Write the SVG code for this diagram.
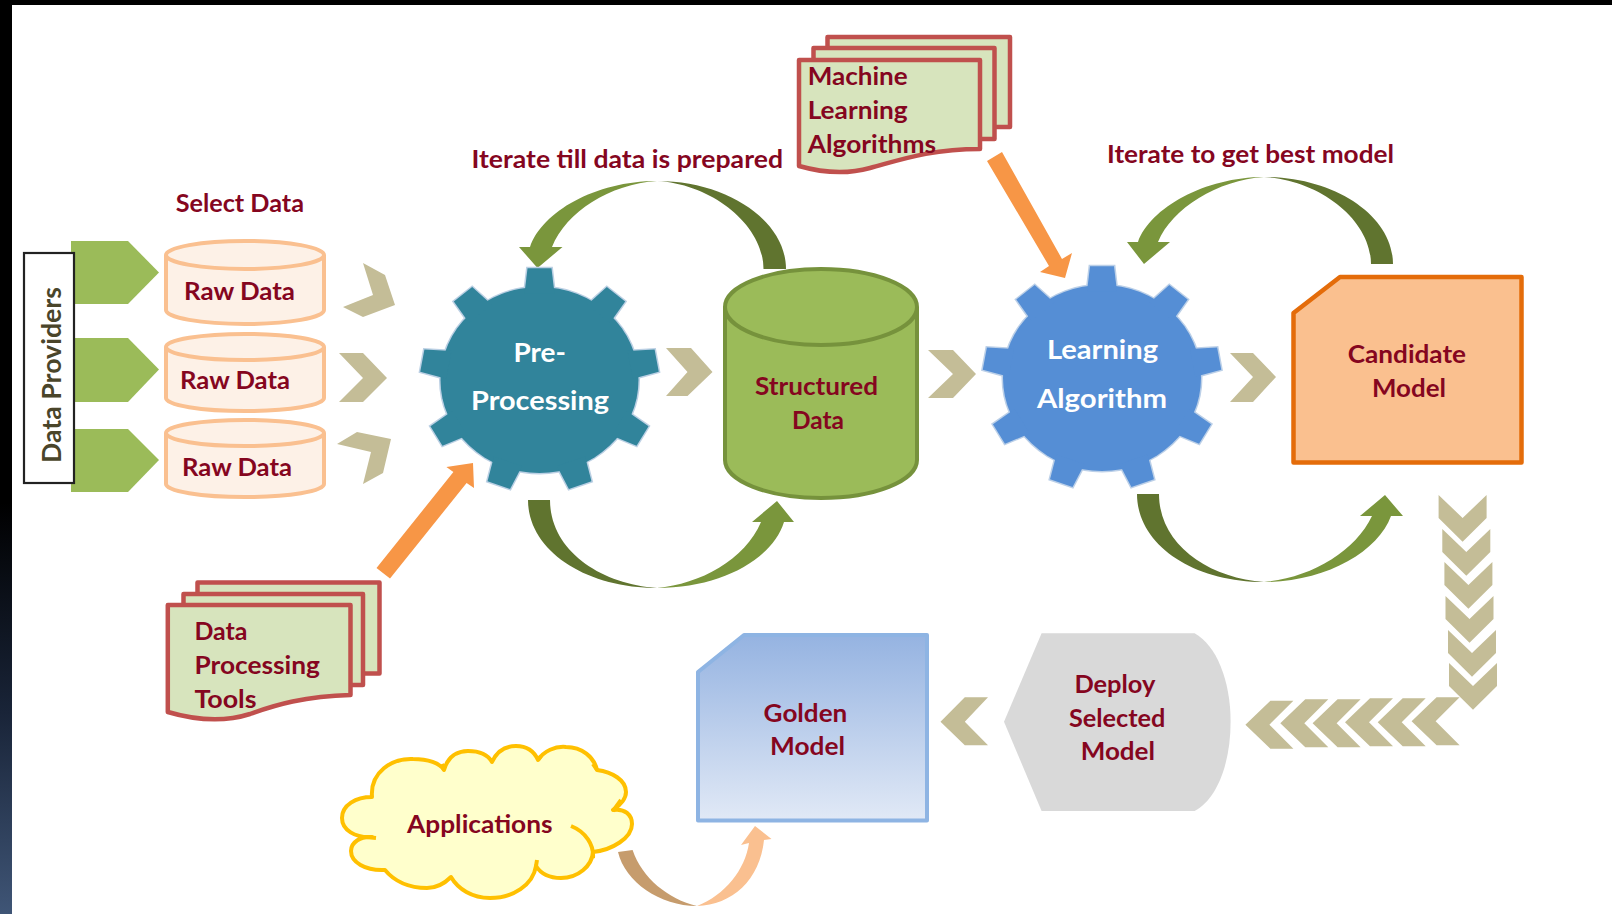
<svg xmlns="http://www.w3.org/2000/svg" width="1612" height="914" viewBox="0 0 1612 914">
<style>
text{font-family:"Lato","Carlito","Liberation Sans",sans-serif;font-weight:700;fill:#85061f;font-size:24.5px}
text:not(.r){transform:translateY(1px)}
.w{fill:#fff;font-size:27px}
.chev{fill:#c4bd97}
.dark{fill:#60742f}
.light{fill:#7a963c}
.orange{fill:#f79646}
.doc{fill:#d7e4bd;stroke:#c0504d;stroke-width:4.5;stroke-linejoin:round}
.can{fill:#fdf1e7;stroke:#fac090;stroke-width:4}
.pent{fill:#9bbb59}
</style>
<defs>
<linearGradient id="bar" x1="0" y1="0" x2="0" y2="1"><stop offset="0" stop-color="#000"/><stop offset=".55" stop-color="#000"/><stop offset=".78" stop-color="#192438"/><stop offset="1" stop-color="#3f5576"/></linearGradient>
<linearGradient id="gold" x1="0" y1="0" x2="0" y2="1"><stop offset="0" stop-color="#95b3e1"/><stop offset="1" stop-color="#e1e9f6"/></linearGradient>
<g id="gear">
<circle r="99"/>
<polygon id="t" points="-15,-92 15,-92 12,-119 -12,-119"/>
<use href="#t" transform="rotate(40)"/><use href="#t" transform="rotate(80)"/><use href="#t" transform="rotate(120)"/><use href="#t" transform="rotate(160)"/><use href="#t" transform="rotate(200)"/><use href="#t" transform="rotate(240)"/><use href="#t" transform="rotate(280)"/><use href="#t" transform="rotate(320)"/>
</g>
<polygon id="down" class="chev" points="0,0 24,23 48,0 48,23 24,46.7 0,23"/>
<polygon id="left" class="chev" points="0,0 25,-24 48,-24 24,0 48,24 25,24"/>
</defs>
<rect width="1612" height="914" fill="#fff"/>
<rect width="12" height="914" fill="url(#bar)"/>
<rect width="1612" height="5" fill="#000"/>

<g id="connectors">
<path class="dark" d="M786 269C786 221 728 181 657 181C712 184 763.5 225 763.5 269Z"/>
<path class="light" d="M657 181C595 181 542 212 530 247H519L537.5 268L562.5 247H552C566 212 610 184 657 181Z"/>
<path class="dark" d="M528 500C528 550 585 588 657 588C600 584 550 550 550 500Z"/>
<path class="light" d="M657 588C720 588 772 560 784 522H794L777 501L752 522H761C745 560 700 584 657 588Z"/>
<path class="dark" d="M1393 264C1393 216 1335 177 1264 177C1320 180 1371 220 1371 264Z"/>
<path class="light" d="M1264 177C1205 177 1150 208 1138 242H1127L1144 264L1170 242H1158C1172 208 1218 180 1264 177Z"/>
<path class="dark" d="M1137 494C1137 544 1192 582 1264 582C1208 578 1159 544 1159 494Z"/>
<path class="light" d="M1264 582C1325 582 1378 552 1391 516H1403L1385 495L1360 516H1372C1355 552 1310 578 1264 582Z"/>
<path d="M618 852C625 882 660 906 697 906C668 899 642 878 632.6 850Z" fill="#c69c6d"/>
<path d="M697 906C732 905 760 880 764 840L771.5 839L755 826L741 845L749 843C745 870 725 895 697 906Z" fill="#fac090"/>
<polygon class="orange" points="987,161 1002,152 1062,259 1072,253 1065,278 1040,272 1049,266"/>
<polygon class="orange" points="376.5,568 390,578.5 466.6,483 474,488 473,463 446.4,467 453.4,472"/>
<polygon class="chev" points="363,263 385,275 395,305 363,317 343,307 373,295"/>
<polygon class="chev" points="339,353 363,353 387,378 363,402 339,402 363,378"/>
<polygon class="chev" points="337,444 357,432 391,439 383,473 363,484 371,452"/>
<polygon class="chev" points="666,348 691,348 712.5,372 687.5,396 666,396 687.5,372"/>
<polygon class="chev" points="928,350 953,350 976,374 953,398 928,398 953,374"/>
<polygon class="chev" points="1230,353 1253,353 1276,377 1253,402 1230,402 1253,377"/>
<use href="#down" x="1438.6" y="495"/>
<use href="#down" x="1442.3" y="529"/>
<use href="#down" x="1444.4" y="562"/>
<use href="#down" x="1445.5" y="596"/>
<use href="#down" x="1448" y="630"/>
<use href="#down" x="1449" y="663"/>
<use href="#left" x="1411.6" y="721.3"/>
<use href="#left" x="1377.7" y="722.3"/>
<use href="#left" x="1345" y="722.3"/>
<use href="#left" x="1312.6" y="723.3"/>
<use href="#left" x="1280.3" y="723.3"/>
<use href="#left" x="1245.4" y="724.7"/>
<polygon class="chev" points="940.5,721.7 964.8,697.3 988,697.3 964.8,721.7 988,745.3 964.8,745.3"/>
</g>

<g id="provider-1"><polygon class="pent" points="71,241 128,241 159,272.5 128,304 71,304"/></g>
<g id="provider-2"><polygon class="pent" points="71,338 128,338 159,369.5 128,402 71,402"/></g>
<g id="provider-3"><polygon class="pent" points="71,429 128,429 159,460 128,492 71,492"/></g>
<g id="data-providers">
<rect x="24" y="253" width="50" height="230" fill="#fff" stroke="#222" stroke-width="2.2"/>
<text class="r" transform="translate(61 463) rotate(-90)" textLength="176" lengthAdjust="spacingAndGlyphs" style="fill:#4a452a;font-size:26px">Data Providers</text>
</g>
<g id="select-data"><text x="175.7" y="210.7" textLength="128.3" lengthAdjust="spacingAndGlyphs">Select Data</text></g>

<g id="raw-1">
<path class="can" d="M166 255V310A79 14 0 0 0 324 310V255"/><ellipse class="can" cx="245" cy="255" rx="79" ry="14"/>
<text x="184" y="299" textLength="111" lengthAdjust="spacingAndGlyphs">Raw Data</text>
</g>
<g id="raw-2">
<path class="can" d="M166 347V398A79 13 0 0 0 324 398V347"/><ellipse class="can" cx="245" cy="347" rx="79" ry="13"/>
<text x="180" y="388" textLength="110" lengthAdjust="spacingAndGlyphs">Raw Data</text>
</g>
<g id="raw-3">
<path class="can" d="M166 433V484A79 13 0 0 0 324 484V433"/><ellipse class="can" cx="245" cy="433" rx="79" ry="13"/>
<text x="182" y="475" textLength="110" lengthAdjust="spacingAndGlyphs">Raw Data</text>
</g>

<g id="pre-processing">
<g transform="translate(539.5 380) scale(1 .94)">
<use href="#gear" fill="#bcd0e4" stroke="#bcd0e4" stroke-width="3"/>
<use href="#gear" fill="#31849b"/>
</g>
<text class="w" x="513.5" y="361" textLength="52.5" lengthAdjust="spacingAndGlyphs">Pre-</text>
<text class="w" x="471" y="409" textLength="138" lengthAdjust="spacingAndGlyphs">Processing</text>
</g>
<g id="iterate-data"><text x="471.5" y="167" textLength="311.5" lengthAdjust="spacingAndGlyphs">Iterate till data is prepared</text></g>

<g id="structured-data">
<path d="M725 307V460A96 38 0 0 0 917 460V307" fill="#9bbb59" stroke="#76923c" stroke-width="4"/>
<ellipse cx="821" cy="307" rx="96" ry="38" fill="#9bbb59" stroke="#76923c" stroke-width="4"/>
<text x="755" y="394" textLength="123" lengthAdjust="spacingAndGlyphs">Structured</text>
<text x="792" y="428" textLength="52" lengthAdjust="spacingAndGlyphs">Data</text>
</g>

<g id="ml-algorithms">
<rect class="doc" x="827.5" y="37" width="182.5" height="90"/>
<rect class="doc" x="813.5" y="48" width="181" height="91"/>
<path class="doc" d="M799 60H980V149C930 149 900 160 870 168C845 175 820 172 799 166Z"/>
<text x="807.7" y="84" textLength="100" lengthAdjust="spacingAndGlyphs">Machine</text>
<text x="807.7" y="118.3" textLength="100" lengthAdjust="spacingAndGlyphs">Learning</text>
<text x="807.7" y="152" textLength="128.3" lengthAdjust="spacingAndGlyphs">Algorithms</text>
</g>

<g id="learning-algorithm">
<g transform="translate(1102 378) scale(1 .94)">
<use href="#gear" fill="#bcd0e8" stroke="#bcd0e8" stroke-width="3"/>
<use href="#gear" fill="#558ed5"/>
</g>
<text class="w" x="1047" y="358" textLength="111" lengthAdjust="spacingAndGlyphs">Learning</text>
<text class="w" x="1037" y="407" textLength="130" lengthAdjust="spacingAndGlyphs">Algorithm</text>
</g>
<g id="iterate-model"><text x="1107" y="161.7" textLength="287" lengthAdjust="spacingAndGlyphs">Iterate to get best model</text></g>

<g id="candidate-model">
<path d="M1340 277H1521.5V462.5H1293.5V313Z" fill="#fac08f" stroke="#e46c0a" stroke-width="4.5" stroke-linejoin="round"/>
<text x="1347.8" y="362" textLength="118.2" lengthAdjust="spacingAndGlyphs">Candidate</text>
<text x="1372" y="396" textLength="74" lengthAdjust="spacingAndGlyphs">Model</text>
</g>

<g id="tools">
<rect class="doc" x="197.5" y="582.5" width="182" height="91"/>
<rect class="doc" x="183.5" y="594" width="179.5" height="91"/>
<path class="doc" d="M167.8 605H350.5V695C305 696 275 705 250 714C225 722 195 720 167.8 712Z"/>
<text x="194.4" y="639" textLength="53" lengthAdjust="spacingAndGlyphs">Data</text>
<text x="194.4" y="673" textLength="125.6" lengthAdjust="spacingAndGlyphs">Processing</text>
<text x="194.4" y="707" textLength="62.2" lengthAdjust="spacingAndGlyphs">Tools</text>
</g>

<g id="golden-model">
<path d="M744 635H927V820.5H698V672Z" fill="url(#gold)" stroke="#8eb4e3" stroke-width="4" stroke-linejoin="round"/>
<text x="763.6" y="720.7" textLength="83.7" lengthAdjust="spacingAndGlyphs">Golden</text>
<text x="770" y="754" textLength="75" lengthAdjust="spacingAndGlyphs">Model</text>
</g>

<g id="deploy-model">
<path d="M1004 721.7L1041.6 633.3H1194.6C1216 645 1230.6 680 1230.6 721.7C1230.6 765 1216 800 1194.6 811H1041.6Z" fill="#d9d9d9"/>
<text x="1074.4" y="692" textLength="81" lengthAdjust="spacingAndGlyphs">Deploy</text>
<text x="1069" y="726" textLength="96.4" lengthAdjust="spacingAndGlyphs">Selected</text>
<text x="1080.7" y="759" textLength="74.3" lengthAdjust="spacingAndGlyphs">Model</text>
</g>

<g id="applications">
<path d="M372 797C370 772 392 758 413 759C428 759 440 763 444 770C448 756 458 751 468 751C480 751 488 755 492 762C497 751 506 746 516 746C526 746 534 751 538 760C544 751 555 746 566 747C582 747 594 757 597 770C612 772 626 780 626 792C626 798 621 805 613 810C625 808 632 815 632 824C632 838 612 850 593 852C592 866 578 878 561 878C550 878 541 874 536 866C533 885 513 898 490 898C472 898 458 889 451 877C443 885 436 888 427 888C409 888 394 881 385 870C365 871 351 862 351 851C351 842 361 836 372 837C355 838 342 830 342 818C342 805 356 797 372 797Z" fill="#ffffcc" stroke="#ffc000" stroke-width="4" stroke-linejoin="round"/>
<path d="M571 826C586 832 594 845 593 858M621 800L613 811M376 838L366 837M444 770L442 764M538 760L541 756M597 770L593 764M536 866L537 860" fill="none" stroke="#ffc000" stroke-width="4"/>
<text x="407" y="831.7" textLength="145.6" lengthAdjust="spacingAndGlyphs">Applications</text>
</g>
</svg>
